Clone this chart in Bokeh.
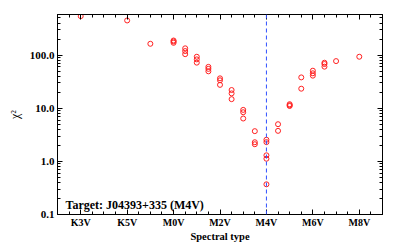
from bokeh.plotting import figure
from bokeh.models import (FixedTicker, LinearAxis, LogAxis, Span, Label, Range1d)
from bokeh.embed import file_html
from bokeh.resources import INLINE

# Spectral type index: K2V=0, K3V=1, K4V=2, K5V=3, K7V=4, M0V=5, M1V=6, ... M8V=13, M9V=14
spt = [1, 3, 4,
       5, 5, 5,
       5.5, 5.5, 5.5,
       6, 6, 6,
       6.5, 6.5, 6.5,
       7, 7, 7,
       7.5, 7.5, 7.5,
       8, 8, 8,
       8.5, 8.5, 8.5,
       9, 9, 9, 9, 9,
       9.5, 9.5,
       10, 10, 10,
       10.5, 10.5,
       11, 11, 11,
       11.5, 11.5, 11.5,
       12, 13]
chi2 = [540, 448, 163,
        188, 180, 170,
        134, 119, 104,
        93, 83, 72,
        60, 55, 49.5,
        36.5, 33.5, 27.5,
        22, 19, 14.8,
        9.3, 8.4, 6.4,
        3.7, 2.29, 2.1,
        2.55, 2.3, 1.3, 1.12, 0.37,
        5.0, 3.75,
        11.9, 11.4, 11.0,
        38, 23.3,
        50.8, 45.4, 41,
        71.7, 67.8, 60.5,
        77, 93]

tick_pos = [1, 3, 5, 7, 9, 11, 13]
tick_labels = ["K3V", "K5V", "M0V", "M2V", "M4V", "M6V", "M8V"]
minor_pos = [i * 0.5 for i in range(0, 29)]
target_spt = 9
target_text = "Target: J04393+335 (M4V)"

y_major = [0.1, 1.0, 10.0, 100.0]
y_labels = ["0.1", "1.0", "10.0", "100.0"]
y_minor = [m * d for d in (0.1, 1, 10, 100) for m in range(2, 10) if m * d < 600]

FONT = "Liberation Serif"
FS = "11px"

p = figure(width=399, height=244, output_backend="svg", toolbar_location=None,
           y_axis_type="log", x_range=Range1d(0, 14), y_range=Range1d(0.1, 580),
           min_border_left=57, min_border_right=17, min_border_top=14, min_border_bottom=30,
           x_axis_label="Spectral type", y_axis_label="χ²")
p.grid.visible = False
p.outline_line_color = "black"
p.background_fill_color = "white"
p.border_fill_color = "white"

xt = FixedTicker(ticks=tick_pos, minor_ticks=minor_pos)
yt = FixedTicker(ticks=y_major, minor_ticks=y_minor)

def style(ax, labels=True):
    ax.axis_line_color = "black"
    ax.axis_line_width = 1
    ax.major_tick_line_color = "black"
    ax.minor_tick_line_color = "black"
    ax.major_tick_in = 5
    ax.major_tick_out = 0
    ax.minor_tick_in = 3
    ax.minor_tick_out = 0
    ax.major_label_text_font = FONT
    ax.major_label_text_font_style = "bold"
    ax.major_label_text_font_size = FS
    ax.major_label_text_color = "black"
    ax.axis_label_text_font = FONT
    ax.axis_label_text_font_style = "bold"
    ax.axis_label_text_font_size = FS
    ax.axis_label_text_color = "black"
    if not labels:
        ax.major_label_text_alpha = 0
        ax.major_label_text_font_size = "0px"
        ax.major_label_standoff = 0

xa = p.xaxis[0]
xa.ticker = xt
xa.major_label_overrides = {t: l for t, l in zip(tick_pos, tick_labels)}
style(xa)
xa.major_label_standoff = 2
xa.axis_label_standoff = 0
xa.major_label_text_font_size = "10px"
xa.axis_label_text_font_size = "10.5px"

ya = p.yaxis[0]
ya.ticker = yt
ya.major_label_overrides = {t: l for t, l in zip(y_major, y_labels)}
style(ya)
ya.major_label_standoff = 3
ya.axis_label_standoff = 5
ya.axis_label_text_font_size = "12px"
ya.axis_label_text_font_style = "normal"

top = LinearAxis(ticker=FixedTicker(ticks=tick_pos, minor_ticks=minor_pos))
style(top, labels=False)
p.add_layout(top, "above")
right = LogAxis(ticker=FixedTicker(ticks=y_major, minor_ticks=y_minor))
style(right, labels=False)
p.add_layout(right, "right")

p.add_layout(Span(location=target_spt, dimension="height", line_color="#3050ff",
                  line_width=1, line_dash="4 3"))

p.scatter(spt, chi2, marker="circle", size=5, fill_color=None,
          line_color="#ff2020", line_width=1)

p.add_layout(Label(x=8, y=10, x_units="screen", y_units="screen", text=target_text,
                   text_font=FONT, text_font_style="bold", text_font_size="12px",
                   text_color="black", text_baseline="alphabetic"))

open("out.html", "w").write(file_html(p, INLINE))
